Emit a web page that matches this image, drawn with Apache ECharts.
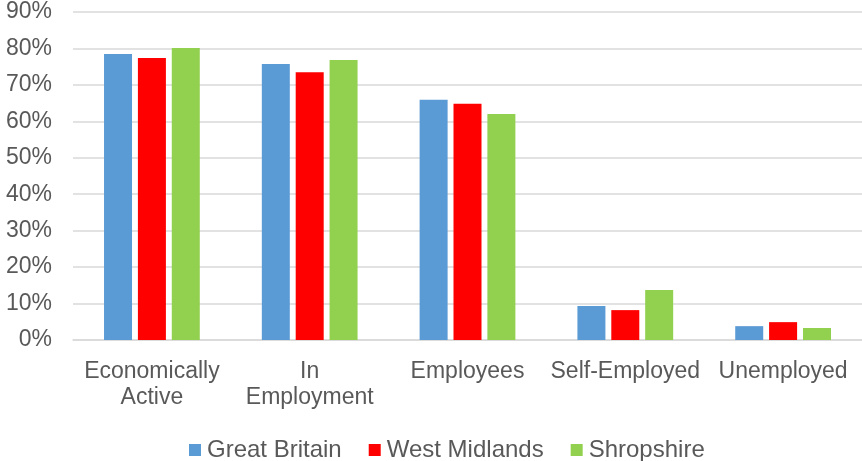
<!DOCTYPE html>
<html>
<head>
<meta charset="utf-8">
<style>
  html, body { margin: 0; padding: 0; background: #ffffff; }
  #chart { width: 862px; height: 461px; }
</style>
<script src="https://cdn.jsdelivr.net/npm/echarts@6/dist/echarts.min.js"></script>
</head>
<body>
<div id="chart"></div>
<script>
// Labour market activity rates (% of working-age population)
const categories = ['Economically\nActive', 'In\nEmployment', 'Employees', 'Self-Employed', 'Unemployed'];
const greatBritain = [78.5, 75.7, 65.9, 9.3, 3.8];
const westMidlands = [77.4, 73.5, 64.8, 8.2, 4.9];
const shropshire = [80.1, 76.8, 62.0, 13.7, 3.3];
const yTicks = [0, 10, 20, 30, 40, 50, 60, 70, 80, 90];

const textColor = '#595959';
const font = 'Liberation Sans, Arial, sans-serif';

const chart = echarts.init(document.getElementById('chart'));

function barSeries(name, data, color) {
  return {
    name: name,
    type: 'bar',
    data: data,
    barWidth: 28,
    barGap: '21%',
    itemStyle: { color: color },
    emphasis: { disabled: true }
  };
}

chart.setOption({
  animation: false,
  textStyle: { fontFamily: font },
  grid: { left: 73, right: 0, top: 12, bottom: 121, containLabel: false },
  legend: {
    left: 184,
    top: 433,
    itemWidth: 12,
    itemHeight: 12,
    itemGap: 27,
    icon: 'rect',
    textStyle: { color: textColor, fontSize: 24, fontFamily: font, padding: [0, 0, 0, 1] },
    data: ['Great Britain', 'West Midlands', 'Shropshire']
  },
  xAxis: {
    type: 'category',
    data: categories,
    axisLine: { lineStyle: { color: '#D9D9D9', width: 1.5 } },
    axisTick: { show: false },
    axisLabel: {
      color: textColor,
      fontSize: 23,
      fontFamily: font,
      lineHeight: 26,
      margin: 19,
      interval: 0
    }
  },
  yAxis: {
    type: 'value',
    min: yTicks[0],
    max: yTicks[yTicks.length - 1],
    interval: yTicks[1] - yTicks[0],
    axisLine: { show: false },
    axisTick: { show: false },
    splitLine: { lineStyle: { color: '#D9D9D9', width: 1.5 } },
    axisLabel: {
      color: textColor,
      fontSize: 23,
      fontFamily: font,
      margin: 21,
      formatter: '{value}%'
    }
  },
  series: [
    barSeries('Great Britain', greatBritain, '#5B9BD5'),
    barSeries('West Midlands', westMidlands, '#FF0000'),
    barSeries('Shropshire', shropshire, '#92D050')
  ]
});
</script>
</body>
</html>
